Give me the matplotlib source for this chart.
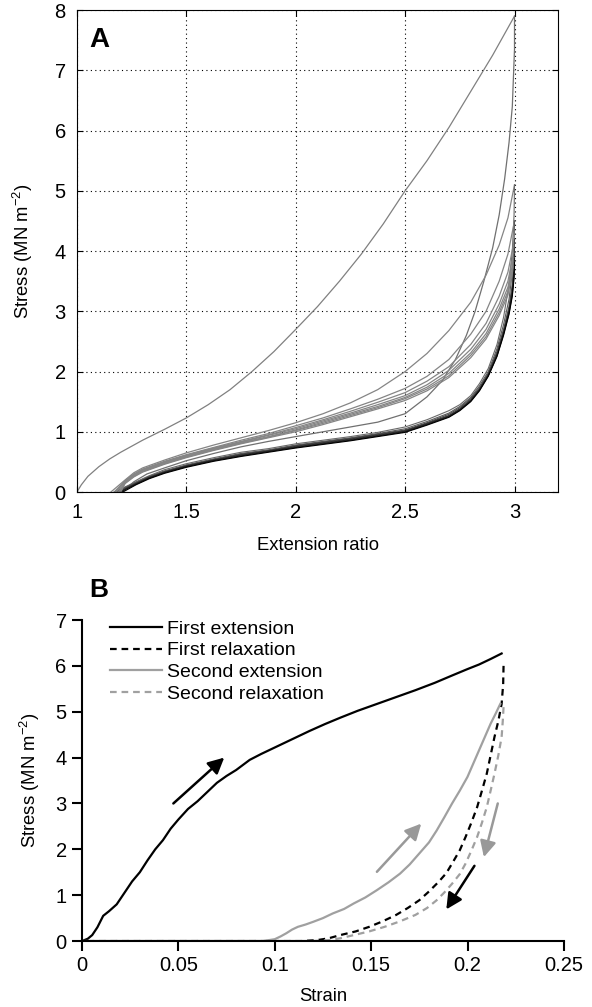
import matplotlib
matplotlib.use("Agg")
import matplotlib.pyplot as plt

plt.rcParams["font.family"] = ["Liberation Sans", "DejaVu Sans"]
plt.rcParams["mathtext.fontset"] = "custom"
plt.rcParams["mathtext.rm"] = "Liberation Sans"

# ---- panel A data (extension ratio vs stress, repeated cycles) ----
c1_ext_x = [1.0, 1.02, 1.05, 1.1, 1.15, 1.2, 1.3, 1.4, 1.5, 1.6, 1.7, 1.8, 1.9, 2.0, 2.1, 2.2,
            2.3, 2.4, 2.5, 2.6, 2.7, 2.8, 2.9, 3.0]
c1_ext_y = [0.0, 0.12, 0.26, 0.42, 0.55, 0.66, 0.86, 1.04, 1.23, 1.45, 1.7, 2.0, 2.33, 2.7, 3.08, 3.5,
            3.95, 4.45, 5.0, 5.5, 6.05, 6.65, 7.25, 7.9]
c1_rel_x = [3.0, 3.0, 2.99, 2.975, 2.955, 2.93, 2.9, 2.86, 2.82, 2.78, 2.73, 2.67, 2.6, 2.5, 2.375,
            2.25, 2.125, 2.0, 1.875, 1.75, 1.625, 1.5, 1.4, 1.32, 1.26, 1.205]
c1_rel_y = [7.9, 7.35, 6.4, 5.8, 5.2, 4.6, 4.05, 3.5, 3.0, 2.6, 2.2, 1.85, 1.58, 1.3, 1.16,
            1.08, 1.0, 0.92, 0.84, 0.75, 0.64, 0.52, 0.4, 0.3, 0.17, 0.0]

ext_x = [1.22, 1.26, 1.3, 1.4, 1.5, 1.625, 1.75, 1.875, 2.0, 2.125, 2.25, 2.375, 2.5, 2.6, 2.7,
         2.8, 2.87, 2.93, 2.97, 3.0]
ext_start = [1.155, 1.17, 1.175, 1.18, 1.19, 1.195, 1.2]
ext_y = [
    [0.2, 0.32, 0.4, 0.53, 0.65, 0.78, 0.9, 1.02, 1.15, 1.3, 1.48, 1.7, 2.0, 2.3, 2.68, 3.15, 3.6, 4.1, 4.55, 5.1],
    [0.19, 0.3, 0.38, 0.51, 0.62, 0.74, 0.86, 0.97, 1.1, 1.23, 1.38, 1.54, 1.72, 1.92, 2.2, 2.62, 3.0, 3.5, 3.95, 4.5],
    [0.18, 0.29, 0.37, 0.5, 0.61, 0.73, 0.84, 0.95, 1.07, 1.2, 1.34, 1.49, 1.65, 1.84, 2.08, 2.45, 2.8, 3.25, 3.65, 4.2],
    [0.17, 0.28, 0.36, 0.49, 0.6, 0.72, 0.83, 0.94, 1.05, 1.18, 1.31, 1.45, 1.6, 1.78, 2.02, 2.37, 2.7, 3.12, 3.5, 4.05],
    [0.16, 0.27, 0.35, 0.48, 0.59, 0.71, 0.82, 0.92, 1.03, 1.16, 1.29, 1.42, 1.57, 1.74, 1.97, 2.31, 2.63, 3.04, 3.4, 3.95],
    [0.15, 0.26, 0.34, 0.47, 0.58, 0.7, 0.81, 0.91, 1.02, 1.14, 1.27, 1.4, 1.55, 1.71, 1.93, 2.27, 2.58, 2.98, 3.33, 3.88],
    [0.14, 0.25, 0.33, 0.46, 0.57, 0.69, 0.8, 0.9, 1.0, 1.12, 1.25, 1.38, 1.52, 1.68, 1.9, 2.23, 2.54, 2.93, 3.27, 3.82],
]

rel_x = [3.0, 2.998, 2.99, 2.975, 2.95, 2.92, 2.88, 2.84, 2.8, 2.75, 2.7, 2.6, 2.5, 2.375, 2.25,
         2.125, 2.0, 1.875, 1.75, 1.625, 1.5, 1.4, 1.33, 1.27]
rel_end = [1.17, 1.175, 1.18, 1.19, 1.195, 1.2, 1.21]
rel_y = [
    [5.1, 4.6, 4.0, 3.45, 2.9, 2.45, 2.05, 1.8, 1.6, 1.45, 1.35, 1.2, 1.08, 0.99, 0.92, 0.86, 0.8, 0.72, 0.66, 0.57, 0.47, 0.37, 0.27, 0.17],
    [4.5, 4.1, 3.65, 3.2, 2.78, 2.38, 2.0, 1.76, 1.57, 1.42, 1.31, 1.17, 1.05, 0.97, 0.9, 0.84, 0.78, 0.7, 0.64, 0.55, 0.45, 0.35, 0.26, 0.16],
    [4.2, 3.85, 3.45, 3.08, 2.7, 2.33, 1.97, 1.73, 1.55, 1.4, 1.29, 1.15, 1.03, 0.96, 0.89, 0.83, 0.77, 0.69, 0.63, 0.54, 0.44, 0.34, 0.25, 0.15],
    [4.05, 3.72, 3.37, 3.03, 2.66, 2.3, 1.95, 1.71, 1.53, 1.38, 1.27, 1.14, 1.02, 0.95, 0.88, 0.82, 0.76, 0.68, 0.62, 0.53, 0.43, 0.33, 0.24, 0.14],
    [3.95, 3.65, 3.32, 3.0, 2.64, 2.28, 1.94, 1.7, 1.52, 1.37, 1.26, 1.13, 1.01, 0.94, 0.87, 0.81, 0.75, 0.68, 0.61, 0.53, 0.43, 0.33, 0.24, 0.14],
    [3.88, 3.6, 3.28, 2.97, 2.62, 2.26, 1.93, 1.69, 1.51, 1.36, 1.25, 1.12, 1.0, 0.93, 0.86, 0.8, 0.74, 0.67, 0.6, 0.52, 0.42, 0.32, 0.23, 0.13],
    [3.82, 3.55, 3.25, 2.95, 2.6, 2.25, 1.92, 1.68, 1.5, 1.35, 1.24, 1.11, 0.99, 0.92, 0.85, 0.79, 0.73, 0.66, 0.59, 0.51, 0.41, 0.31, 0.22, 0.12],
]
rel_colors = ["#6a6a6a", "#5a5a5a", "#4a4a4a", "#3a3a3a", "#2a2a2a", "#1a1a1a", "#000000"]

# ---- panel B data (strain vs stress, two cycles) ----
fe_x = [0.0, 0.003, 0.0053, 0.008, 0.011, 0.014, 0.018, 0.022, 0.026, 0.03, 0.034, 0.038, 0.042,
        0.046, 0.05, 0.055, 0.06, 0.065, 0.07, 0.075, 0.08, 0.087, 0.093, 0.1, 0.11, 0.118, 0.126,
        0.134, 0.143, 0.153, 0.163, 0.173, 0.183, 0.192, 0.2, 0.206, 0.212, 0.2177]
fe_y = [0.0, 0.05, 0.13, 0.3, 0.55, 0.65, 0.8, 1.05, 1.3, 1.5, 1.76, 2.0, 2.2,
        2.45, 2.65, 2.88, 3.05, 3.25, 3.45, 3.6, 3.73, 3.95, 4.08, 4.22, 4.42, 4.58, 4.73,
        4.87, 5.02, 5.17, 5.32, 5.47, 5.63, 5.79, 5.93, 6.03, 6.15, 6.27]
fr_x = [0.2187, 0.2185, 0.2177, 0.216, 0.214, 0.212, 0.21, 0.2075, 0.205, 0.202, 0.199, 0.196, 0.192,
        0.189, 0.185, 0.18, 0.175, 0.169, 0.163, 0.156, 0.149, 0.142, 0.134, 0.128, 0.122, 0.114, 0.0]
fr_y = [6.0, 5.6, 5.17, 4.8, 4.45, 4.05, 3.65, 3.28, 2.92, 2.58, 2.27, 1.98, 1.69,
        1.48, 1.29, 1.08, 0.89, 0.72, 0.57, 0.43, 0.31, 0.21, 0.13, 0.06, 0.02, 0.0, 0.0]
se_x = [0.0, 0.094, 0.1, 0.103, 0.106, 0.109, 0.112, 0.116, 0.12, 0.125, 0.13, 0.136, 0.141, 0.147,
        0.153, 0.159, 0.165, 0.17, 0.175, 0.18, 0.184, 0.188, 0.192, 0.196, 0.2, 0.203, 0.206, 0.209,
        0.212, 0.2145, 0.217]
se_y = [0.0, 0.0, 0.04, 0.1, 0.17, 0.25, 0.31, 0.36, 0.42, 0.5, 0.6, 0.7, 0.82, 0.95,
        1.11, 1.28, 1.47, 1.67, 1.91, 2.15, 2.41, 2.7, 3.0, 3.28, 3.58, 3.87, 4.16, 4.45,
        4.74, 4.95, 5.17]
sr_x = [0.2187, 0.2183, 0.2177, 0.216, 0.214, 0.212, 0.21, 0.2075, 0.205, 0.202, 0.199, 0.196, 0.192,
        0.188, 0.184, 0.179, 0.173, 0.165, 0.157, 0.149, 0.141, 0.134, 0.128, 0.12, 0.0]
sr_y = [5.1, 4.8, 4.45, 4.05, 3.65, 3.28, 2.92, 2.58, 2.27, 1.97, 1.69, 1.46, 1.25,
        1.06, 0.89, 0.72, 0.57, 0.43, 0.31, 0.21, 0.13, 0.06, 0.02, 0.0, 0.0]

# arrows drawn along the loading direction
arrow_tail_x = [0.0474, 0.153, 0.2157, 0.2036]
arrow_tail_y = [3.0, 1.51, 3.0, 1.64]
arrow_head_x = [0.0738, 0.176, 0.2085, 0.189]
arrow_head_y = [4.0, 2.56, 1.83, 0.69]
arrow_colors = ["black", "#999999", "#999999", "black"]

fig = plt.figure(figsize=(5.92, 10.07), dpi=100)

# panel A
axA = fig.add_axes([0.130, 0.5114, 0.813, 0.4786])
axA.plot(c1_ext_x, c1_ext_y, color="#808080", lw=0.9)
axA.plot(c1_rel_x, c1_rel_y, color="#707070", lw=0.9)
for i in range(len(ext_y)):
    axA.plot([ext_start[i]] + ext_x, [0.0] + ext_y[i], color="#858585", lw=0.9)
    axA.plot(rel_x + [rel_end[i]], rel_y[i] + [0.0], color=rel_colors[i], lw=0.8)
axA.set_xlim(1, 3.2)
axA.set_ylim(0, 8)
axA.set_xticks([1, 1.5, 2, 2.5, 3])
axA.set_xticklabels(["1", "1.5", "2", "2.5", "3"])
axA.set_yticks(range(0, 9))
axA.grid(True, color="black", linestyle=(0, (1, 3)), linewidth=0.8)
axA.tick_params(direction="in", top=True, right=True, labelsize=14.5, length=4, pad=8)
for s in axA.spines.values():
    s.set_linewidth(0.8)
axA.set_xlabel("Extension ratio", fontsize=13.3, labelpad=11)
axA.set_ylabel(r"Stress (MN m$^{\mathregular{-2}}$)", fontsize=13.3, labelpad=14)
axA.text(0.025, 0.965, "A", transform=axA.transAxes, fontsize=20, fontweight="bold", va="top")

# panel B
axB = fig.add_axes([0.1385, 0.0655, 0.814, 0.3188])
axB.plot(fe_x, fe_y, color="black", lw=1.6, label="First extension")
axB.plot(fr_x, fr_y, color="black", lw=1.6, dashes=(3, 2.2), label="First relaxation")
axB.plot(se_x, se_y, color="#a0a0a0", lw=1.6, label="Second extension")
axB.plot(sr_x, sr_y, color="#a0a0a0", lw=1.6, dashes=(3, 2.2), label="Second relaxation")
for i in range(len(arrow_tail_x)):
    axB.annotate("", xy=(arrow_head_x[i], arrow_head_y[i]), xytext=(arrow_tail_x[i], arrow_tail_y[i]),
                 arrowprops=dict(arrowstyle="-|>", color=arrow_colors[i], lw=1.8, mutation_scale=24,
                                 shrinkA=0, shrinkB=0))
axB.set_xlim(0, 0.25)
axB.set_ylim(0, 7)
axB.set_xticks([0, 0.05, 0.1, 0.15, 0.2, 0.25])
axB.set_xticklabels(["0", "0.05", "0.1", "0.15", "0.2", "0.25"])
axB.set_yticks(range(0, 8))
axB.spines["top"].set_visible(False)
axB.spines["right"].set_visible(False)
axB.spines["left"].set_linewidth(1.5)
axB.spines["bottom"].set_linewidth(1.5)
axB.tick_params(direction="out", width=1.5, length=7, labelsize=14.5, pad=4)
axB.set_xlabel("Strain", fontsize=13.3, labelpad=9)
axB.set_ylabel(r"Stress (MN m$^{\mathregular{-2}}$)", fontsize=13.3, labelpad=10)
axB.legend(loc="upper left", bbox_to_anchor=(0.058, 1.0), frameon=False, fontsize=14,
           handlelength=2.7, handletextpad=0.25, labelspacing=0.21, borderaxespad=0, borderpad=0)
fig.text(0.150, 0.402, "B", fontsize=19, fontweight="bold", va="bottom")

fig.savefig("out.png", dpi=100)
